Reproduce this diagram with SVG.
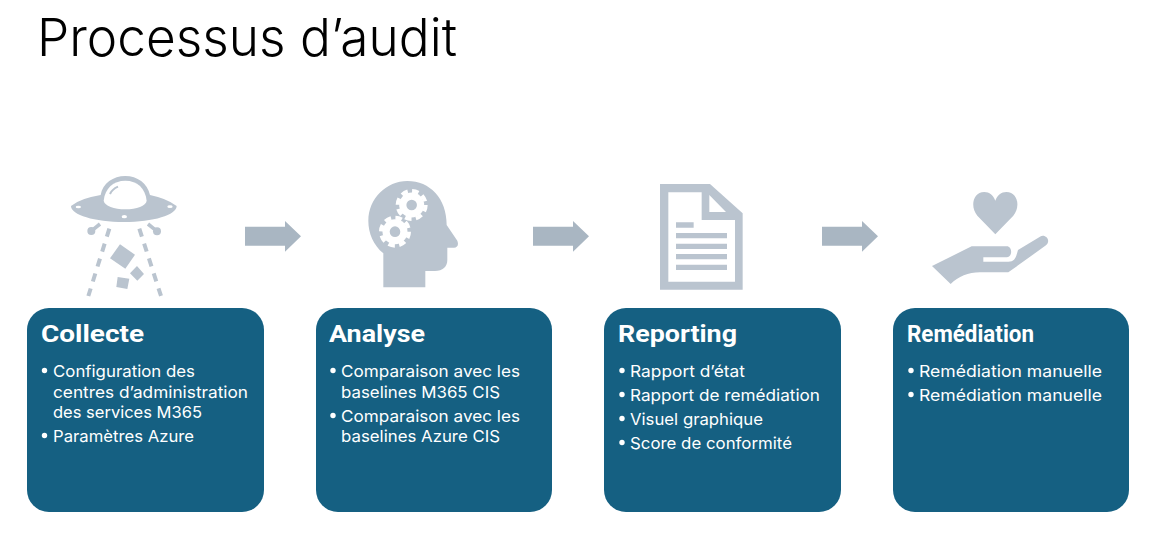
<svg xmlns="http://www.w3.org/2000/svg" width="1162" height="543" viewBox="0 0 1162 543">
<style>
text{font-family:"Inter","Noto Sans","Liberation Sans",sans-serif;fill:#fff}
.t{font-size:52px;fill:#000;font-weight:300}
.h{font-size:23px;font-weight:700;font-family:"Roboto","Liberation Sans",sans-serif}
.b{font-size:16.5px}
.card{fill:#156082}
.ic{fill:#BAC4CF}
.cut{fill:#fff}
.arrow{fill:#A9B6C2}
</style>
<defs>
<path id="ar" class="arrow" d="M0 5.700H40V0L56 15.300 40 30.700V24.700H0Z"/>
<g id="gear"><circle r="12.500" class="cut"/><circle r="14" fill="none" stroke="#fff" stroke-width="4" stroke-dasharray="6.6 4.400"/><circle r="5.300" class="ic"/></g>
</defs>
<text class="t" x="37" y="56" textLength="420" lengthAdjust="spacingAndGlyphs">Processus d’audit</text>
<g id="connectors">
<use href="#ar" x="245" y="221"/>
<use href="#ar" x="533" y="221"/>
<use href="#ar" x="822" y="221"/>
</g>
<g id="icon-ufo" transform="translate(60 170) scale(.3333)">
<path class="ic" d="M122 75C128 40 160 18 196 18S262 40 270 75Q320 85 350 108C350 135 280 156 192 156S33 135 33 108Q60 85 122 75Z"/>
<path class="cut" d="M131 92C135 55 160 32 196 32S256 55 260 92C258 108 230 118 196 118S134 108 131 92Z"/>
<path d="M150 72Q156 58 174 50" fill="none" stroke="#BAC4CF" stroke-width="6"/>
<ellipse class="cut" cx="55" cy="111" rx="8" ry="4"/><ellipse class="cut" cx="193" cy="140" rx="8" ry="5"/><ellipse class="cut" cx="330" cy="110" rx="8" ry="4"/>
<path d="M120 162 100 178M264 162 284 178" fill="none" stroke="#BAC4CF" stroke-width="11"/>
<circle class="ic" cx="94" cy="183" r="12"/><circle class="ic" cx="291" cy="184" r="12"/>
<path d="M148 176 85 378M238 176 303 378" fill="none" stroke="#BAC4CF" stroke-width="12" stroke-dasharray="25 22"/>
<path class="ic" d="M180 223 225 254 196 296 150 265ZM231 288 252 312 232 332 210 310ZM173 321 208 326 202 357 169 351Z"/>
</g>
<g id="icon-head" transform="translate(350 170) scale(.3333)">
<path class="ic" d="M100 352V250C70 225 55 190 55 152 55 85 110 33 172 33 240 33 290 85 290 165L322 212C327 225 322 233 312 233H292V270C292 290 278 303 255 303H226V352Z"/>
<use href="#gear" transform="translate(185 105) scale(3)"/>
<use href="#gear" transform="translate(135 185) scale(3)"/>
</g>
<g id="icon-doc" transform="translate(640 170) scale(.3333)">
<path class="ic" fill-rule="evenodd" d="M60 42H210L308 130V359H60ZM85 67V335H285V150H185V67ZM208 75V126H258Z"/>
<path class="ic" d="M108 157H161V173H108ZM108 189H261V205H108ZM108 221H261V237H108ZM108 252H261V268H108ZM108 284H261V300H108Z"/>
</g>
<g id="icon-hand" transform="translate(890 170) scale(.3333)">
<path class="ic" d="M316 193 262 137C240 112 248 66 283 66 298 66 310 75 316 92 322 75 334 66 349 66 384 66 392 112 370 137Z"/>
<path class="ic" d="M126 288 245 229H350C368 229 368 262 350 262H280V275H355C375 275 378 262 384 240L450 200C465 190 485 210 468 226L355 307H270C235 307 205 320 182 342Z"/>
</g>
<g id="node-collecte">
<rect class="card" x="27" y="308" width="237" height="204" rx="22"/>
<text class="h" x="41" y="342" textLength="103" lengthAdjust="spacingAndGlyphs">Collecte</text>
<circle class="cut" cx="44.500" cy="370.500" r="2.700"/>
<text class="b" x="53" y="377" textLength="142" lengthAdjust="spacingAndGlyphs">Configuration des</text>
<text class="b" x="53" y="398" textLength="195" lengthAdjust="spacingAndGlyphs">centres d’administration</text>
<text class="b" x="53" y="418" textLength="149" lengthAdjust="spacingAndGlyphs">des services M365</text>
<circle class="cut" cx="44.500" cy="435.500" r="2.700"/>
<text class="b" x="53" y="442" textLength="141" lengthAdjust="spacingAndGlyphs">Paramètres Azure</text>
</g>
<g id="node-analyse">
<rect class="card" x="316" y="308" width="236" height="204" rx="22"/>
<text class="h" x="329" y="342" textLength="96" lengthAdjust="spacingAndGlyphs">Analyse</text>
<circle class="cut" cx="333" cy="370.500" r="2.700"/>
<text class="b" x="341" y="377" textLength="179" lengthAdjust="spacingAndGlyphs">Comparaison avec les</text>
<text class="b" x="341" y="398" textLength="159" lengthAdjust="spacingAndGlyphs">baselines M365 CIS</text>
<circle class="cut" cx="333" cy="415.500" r="2.700"/>
<text class="b" x="341" y="422" textLength="179" lengthAdjust="spacingAndGlyphs">Comparaison avec les</text>
<text class="b" x="341" y="442" textLength="159" lengthAdjust="spacingAndGlyphs">baselines Azure CIS</text>
</g>
<g id="node-reporting">
<rect class="card" x="604" y="308" width="237" height="204" rx="22"/>
<text class="h" x="618" y="342" textLength="119" lengthAdjust="spacingAndGlyphs">Reporting</text>
<circle class="cut" cx="622" cy="370.500" r="2.700"/>
<text class="b" x="630" y="377" textLength="115" lengthAdjust="spacingAndGlyphs">Rapport d’état</text>
<circle class="cut" cx="622" cy="394.500" r="2.700"/>
<text class="b" x="630" y="401" textLength="190" lengthAdjust="spacingAndGlyphs">Rapport de remédiation</text>
<circle class="cut" cx="622" cy="418.500" r="2.700"/>
<text class="b" x="630" y="425" textLength="133" lengthAdjust="spacingAndGlyphs">Visuel graphique</text>
<circle class="cut" cx="622" cy="442.500" r="2.700"/>
<text class="b" x="630" y="449" textLength="162" lengthAdjust="spacingAndGlyphs">Score de conformité</text>
</g>
<g id="node-remediation">
<rect class="card" x="893" y="308" width="236" height="204" rx="22"/>
<text class="h" x="907" y="342" textLength="127" lengthAdjust="spacingAndGlyphs">Remédiation</text>
<circle class="cut" cx="911" cy="370.500" r="2.700"/>
<text class="b" x="919" y="377" textLength="183" lengthAdjust="spacingAndGlyphs">Remédiation manuelle</text>
<circle class="cut" cx="911" cy="394.500" r="2.700"/>
<text class="b" x="919" y="401" textLength="183" lengthAdjust="spacingAndGlyphs">Remédiation manuelle</text>
</g>
</svg>
